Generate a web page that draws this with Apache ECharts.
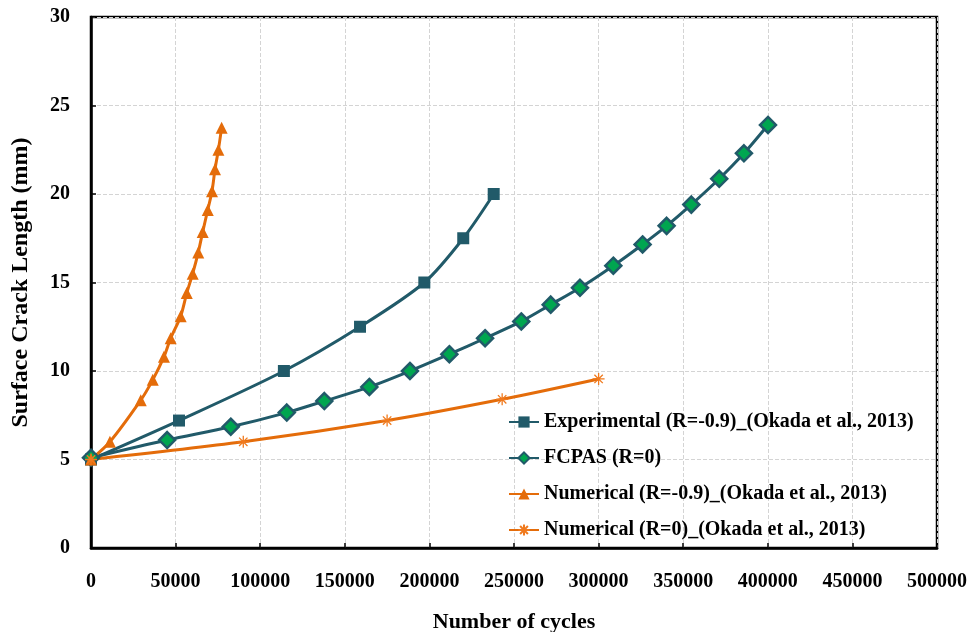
<!DOCTYPE html>
<html>
<head>
<meta charset="utf-8">
<script src="https://cdn.jsdelivr.net/npm/echarts@6/dist/echarts.min.js"></script>
<style>
  html, body { margin: 0; padding: 0; background: #fff; }
  #chart { width: 976px; height: 632px; }
</style>
</head>
<body>
<div id="chart"></div>
<script>
  // values
  const experimental = [[0, 5], [52000, 7.2], [114000, 10], [159000, 12.5], [197000, 15], [220000, 17.5], [238000, 20]]
  const fcpas = [[0, 5.1], [45000, 6.1], [82600, 6.85], [115700, 7.65], [137900, 8.3], [164500, 9.1], [188500, 10],
    [211800, 10.95], [232900, 11.85], [254300, 12.8], [271700, 13.75], [289000, 14.7], [308700, 15.95],
    [326000, 17.15], [340200, 18.2], [354800, 19.4], [371300, 20.86], [385900, 22.3], [400100, 23.9]]
  const numNeg = [[0, 5], [11200, 6], [29400, 8.35], [36500, 9.5], [43100, 10.8], [47100, 11.85], [53000, 13.1],
    [56600, 14.4], [60100, 15.5], [63400, 16.7], [66000, 17.85], [69000, 19.1], [71500, 20.15],
    [73300, 21.4], [75300, 22.5], [77200, 23.75]]
  const numZero = [[0, 5], [90000, 6], [175000, 7.2], [243000, 8.4], [300000, 9.55]]

  const names = ['Experimental (R=-0.9)_(Okada et al., 2013)', 'FCPAS (R=0)',
    'Numerical (R=-0.9)_(Okada et al., 2013)', 'Numerical (R=0)_(Okada et al., 2013)']

  const teal = '#215A69'
  const orange = '#E46C0A'
  const font = '"Liberation Serif", "Times New Roman", serif'
  const asterisk = 'path://M0,5L10,5M5,0L5,10M1.5,1.5L8.5,8.5M8.5,1.5L1.5,8.5'

  const chart = echarts.init(document.getElementById('chart'))
  chart.setOption({
    animation: false,
    textStyle: { fontFamily: font },
    grid: {
      left: 91, right: 39, top: 17, bottom: 84,
      containLabel: false, outerBoundsMode: 'none',
      show: true, borderColor: '#000', borderWidth: 2.5
    },
    legend: {
      orient: 'vertical',
      left: 503, top: 407,
      itemWidth: 30, itemHeight: 14, itemGap: 16,
      textStyle: { fontFamily: font, fontSize: 20, fontWeight: 'bold', color: '#000' },
      data: names
    },
    xAxis: {
      type: 'value', min: 0, max: 500000, interval: 50000,
      name: 'Number of cycles', nameLocation: 'middle', nameGap: 63,
      nameTextStyle: { fontFamily: font, fontSize: 22, fontWeight: 'bold', color: '#000' },
      axisLine: { show: true, lineStyle: { color: '#000', width: 2.5 } },
      axisTick: { show: true, inside: true, length: 5, lineStyle: { color: '#000', width: 1.5 } },
      axisLabel: {
        margin: 24, fontFamily: font, fontSize: 20, fontWeight: 'bold', color: '#000',
        formatter: v => String(v)
      },
      splitLine: { show: true, lineStyle: { color: '#d4d4d4', type: 'dashed', width: 1 } }
    },
    yAxis: {
      type: 'value', min: 0, max: 30, interval: 5,
      name: 'Surface Crack Length (mm)', nameLocation: 'middle', nameGap: 58,
      nameTextStyle: { fontFamily: font, fontSize: 24, fontWeight: 'bold', color: '#000' },
      axisLine: { show: true, lineStyle: { color: '#000', width: 2.5 } },
      axisTick: { show: true, inside: true, length: 5, lineStyle: { color: '#000', width: 1.5 } },
      axisLabel: { margin: 21, fontFamily: font, fontSize: 20, fontWeight: 'bold', color: '#000' },
      splitLine: { show: true, lineStyle: { color: '#d4d4d4', type: 'dashed', width: 1 } }
    },
    series: [
      {
        name: names[0], type: 'line', data: experimental, smooth: 0.3,
        symbol: 'rect', symbolSize: 12,
        lineStyle: { color: teal, width: 3 },
        itemStyle: { color: teal }
      },
      {
        name: names[1], type: 'line', data: fcpas, smooth: 0.3,
        symbol: 'diamond', symbolSize: 16,
        lineStyle: { color: teal, width: 3 },
        itemStyle: { color: '#00A650', borderColor: teal, borderWidth: 2.5 }
      },
      {
        name: names[2], type: 'line', data: numNeg, smooth: 0.3,
        symbol: 'triangle', symbolSize: 12,
        lineStyle: { color: orange, width: 3 },
        itemStyle: { color: orange }
      },
      {
        name: names[3], type: 'line', data: numZero, smooth: 0.3,
        symbol: asterisk, symbolSize: 12,
        lineStyle: { color: orange, width: 3 },
        itemStyle: { color: 'transparent', borderColor: '#F07A1E', borderWidth: 1.3 }
      }
    ]
  })
</script>
</body>
</html>
